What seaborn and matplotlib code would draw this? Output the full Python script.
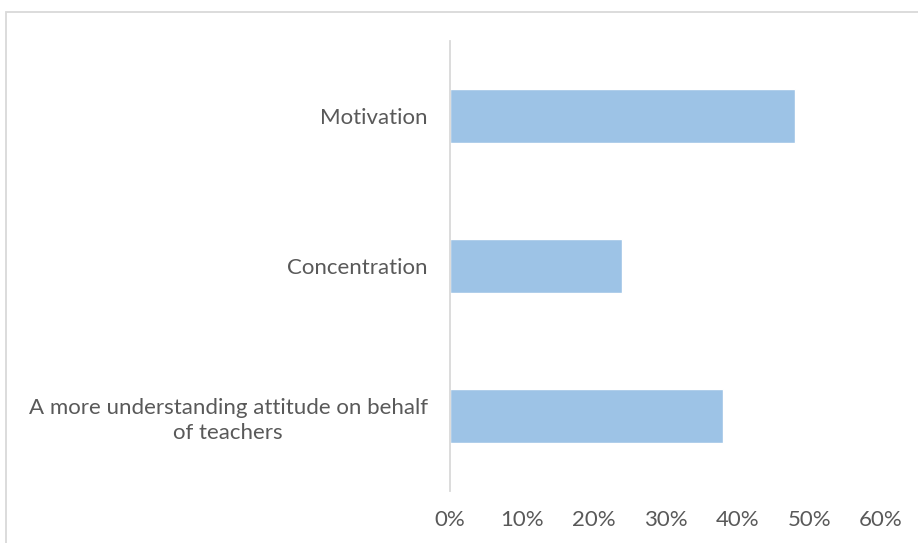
import matplotlib
matplotlib.use("Agg")
import matplotlib.pyplot as plt
import matplotlib.patches as mpatches
from matplotlib.ticker import PercentFormatter
import pandas as pd
import seaborn as sns

categories = [
    "Motivation",
    "Concentration",
    "A more understanding attitude on behalf\nof teachers",
]
shares = [0.48, 0.24, 0.38]
tick_values = [0.0, 0.1, 0.2, 0.3, 0.4, 0.5, 0.6]

df = pd.DataFrame({"category": categories, "share": shares})

sns.set_theme(style="white")
plt.rcParams["font.family"] = ["Lato", "DejaVu Sans"]

text_grey = "#595959"
line_grey = "#d9d9d9"
bar_blue = "#9dc3e6"

fig = plt.figure(figsize=(9.18, 5.43), dpi=100)
fig.patch.set_facecolor("white")

# chart-area frame
fig.patches.append(mpatches.Rectangle(
    (5.5 / 918, -0.05), 1.2, 1 - 12 / 543 + 0.05,
    transform=fig.transFigure, fill=False, edgecolor=line_grey, linewidth=1.3,
    zorder=0))

ax = fig.add_axes([450 / 918, 1 - 491 / 543, 431 / 918, 450 / 543])
sns.barplot(data=df, x="share", y="category", orient="h", color=bar_blue,
            saturation=1, width=0.355, ax=ax)

ax.set_xlim(0, 0.6)
ax.set_ylim(2.5, -0.5)
ax.set_xticks(tick_values)
ax.xaxis.set_major_formatter(PercentFormatter(1.0, decimals=0))
ax.set_xlabel("")
ax.set_ylabel("")

for side in ["top", "right", "bottom"]:
    ax.spines[side].set_visible(False)
ax.spines["left"].set_color(line_grey)
ax.spines["left"].set_linewidth(1.3)

ax.tick_params(axis="x", length=0, pad=14, labelsize=16, labelcolor=text_grey)
ax.tick_params(axis="y", length=0, pad=16, labelsize=16, labelcolor=text_grey)
for lbl in ax.get_yticklabels():
    lbl.set_multialignment("center")
    lbl.set_linespacing(1.3)

fig.savefig("out.png", dpi=100, facecolor="white")
